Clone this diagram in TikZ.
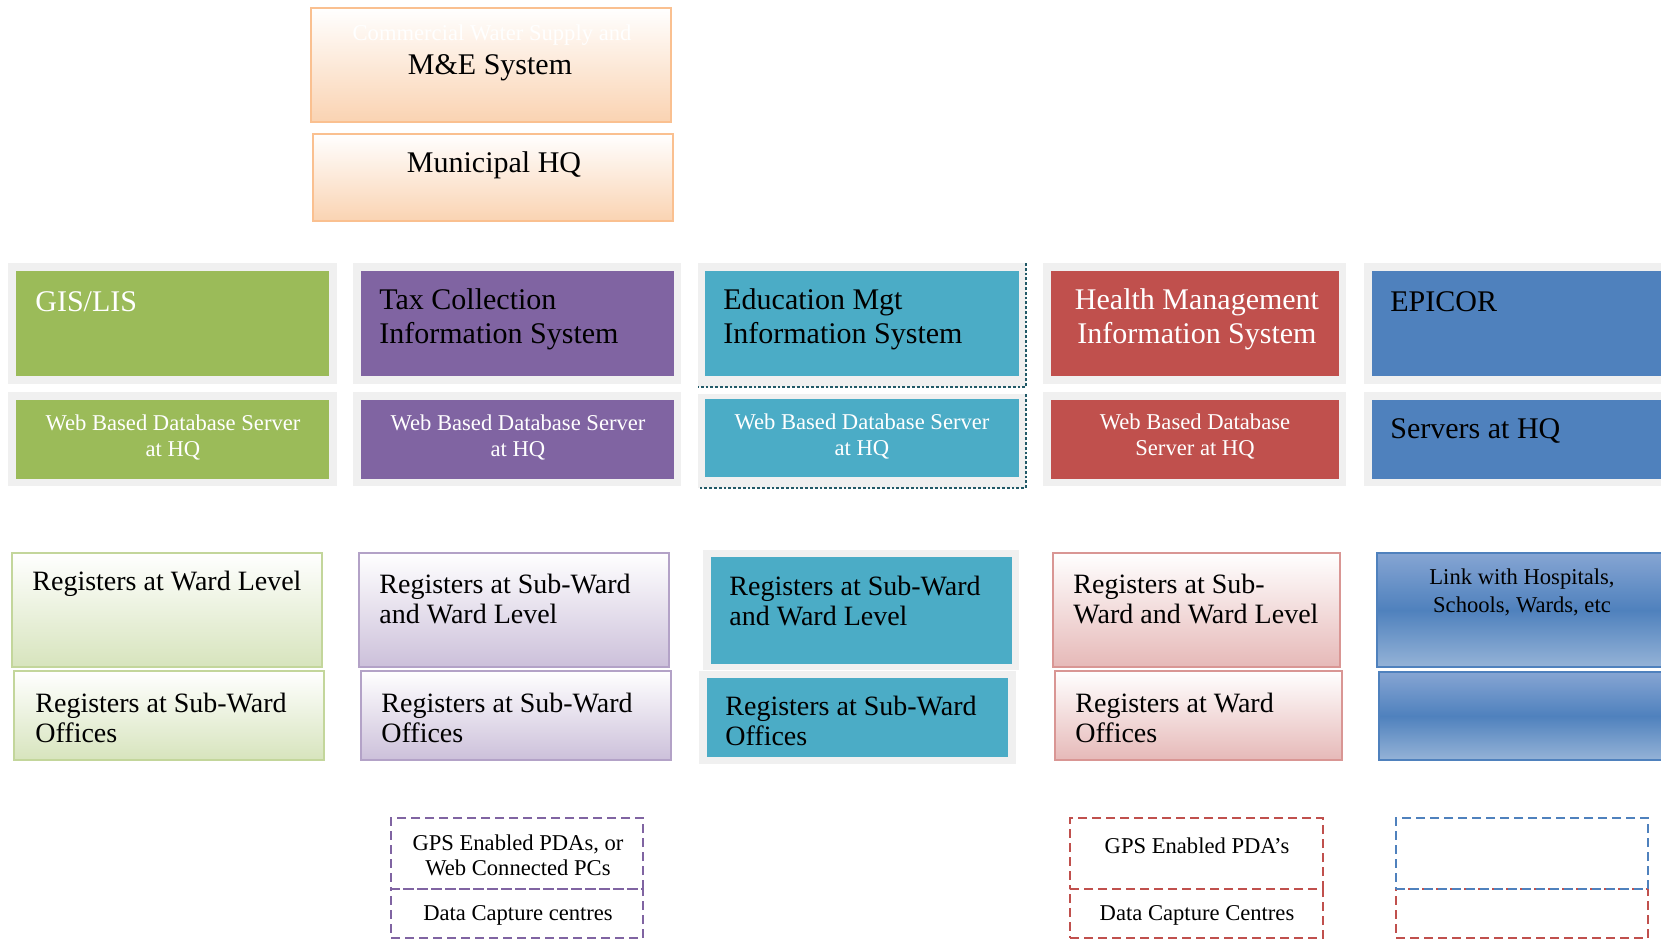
\documentclass[tikz,border=0pt]{standalone}
\usepackage{fontspec}
\setmainfont{Liberation Serif}
\usetikzlibrary{fit}
\definecolor{cOr}{HTML}{FAC090}
\definecolor{cOrB}{HTML}{FAD3B2}
\definecolor{cFrame}{HTML}{F0F0F0}
\definecolor{cGreen}{HTML}{9BBB59}
\definecolor{cPurple}{HTML}{8064A2}
\definecolor{cTeal}{HTML}{4BACC6}
\definecolor{cRed}{HTML}{C0504D}
\definecolor{cBlue}{HTML}{4F81BD}
\definecolor{cGreenL}{HTML}{D7E4BD}
\definecolor{cGreenE}{HTML}{C3D69B}
\definecolor{cPurL}{HTML}{CCC0DA}
\definecolor{cPurE}{HTML}{B3A2C7}
\definecolor{cRedL}{HTML}{E6B9B8}
\definecolor{cRedE}{HTML}{D99694}
\definecolor{cBlueT}{HTML}{86A5D3}
\definecolor{cBlueB}{HTML}{95B3D7}
\definecolor{cDot}{HTML}{215967}
\tikzset{
  plainbox/.style={inner sep=0pt, outer sep=0pt},
  grayframe/.style={plainbox, fill=cFrame},
  solidbox/.style={plainbox, fill=#1},
  gradbox/.style 2 args={plainbox, draw=#1, line width=1pt, top color=white, bottom color=#2},
  bluebox/.style={plainbox, draw=cBlue, line width=1pt, top color=cBlueT, bottom color=cBlueB, middle color=cBlue},
  dashbox/.style={plainbox, draw=#1, line width=1pt, dash pattern=on 4.5pt off 2.5pt},
  tbig/.style={font=\fontsize{15}{17}\selectfont, inner sep=0pt, align=left, yshift=-1.5pt},
  tmid/.style={font=\fontsize{14}{15.4}\selectfont, inner sep=0pt, align=left, yshift=-1.5pt},
  tsmall/.style={font=\fontsize{11.3}{12.7}\selectfont, inner sep=0pt, align=center, yshift=-1.3pt},
  dotline/.style={draw=cDot, line width=1.4pt, densely dotted},
}
\begin{document}
\begin{tikzpicture}[x=0.5pt,y=-0.5pt]
\clip (0,0) rectangle (1661,943);
\fill[white] (0,0) rectangle (1661,943);

% ---- top orange boxes
\node[gradbox={cOr}{cOrB}, fit={(311,8)(671,122)}] (me) {};
\node[tsmall, text=white] (meHidden) at (492,32) {Commercial Water Supply and};
\node[tbig] (meText) at (490,65) {M\&E System};
\node[gradbox={cOr}{cOrB}, fit={(313,134)(673,221)}] (hq) {};
\node[tbig] (hqText) at (494,162) {Municipal HQ};

% ---- row A / B frames
\node[grayframe, fit={(8,263)(337,384)}] (gisF1) {};
\node[grayframe, fit={(8,392)(337,486)}] (gisF2) {};
\node[grayframe, fit={(353,263)(681,384)}] (taxF1) {};
\node[grayframe, fit={(353,392)(681,486)}] (taxF2) {};
\node[grayframe, fit={(698,263)(1026,387)}] (eduF1) {};
\node[grayframe, fit={(698,394)(1026,488)}] (eduF2) {};
\node[grayframe, fit={(1043,263)(1346,384)}] (heaF1) {};
\node[grayframe, fit={(1043,392)(1346,486)}] (heaF2) {};
\node[grayframe, fit={(1364,263)(1670,384)}] (epiF1) {};
\node[grayframe, fit={(1364,392)(1670,486)}] (epiF2) {};
\draw[dotline] (eduF1.north east) -- (eduF1.south east) -- (eduF1.south west);
\draw[dotline] (eduF2.north east) -- (eduF2.south east) -- (eduF2.south west);

% ---- row A coloured
\node[solidbox=cGreen, fit={(16,271)(329,376)}] (gis1) {};
\node[solidbox=cPurple, fit={(361,271)(674,376)}] (tax1) {};
\node[solidbox=cTeal, fit={(705,271)(1019,376)}] (edu1) {};
\node[solidbox=cRed, fit={(1051,271)(1339,376)}] (hea1) {};
\node[solidbox=cBlue, fit={(1372,271)(1670,376)}] (epi1) {};
\node[tbig, text=white, anchor=west] (gis1T) at (35,299) {GIS/LIS};
\node[tbig, anchor=west] (tax1T) at (379,316) {Tax Collection\\Information System};
\node[tbig, anchor=west] (edu1T) at (723,316) {Education Mgt\\Information System};
\node[tbig, text=white, align=center] (hea1T) at (1197,316) {Health Management\\Information System};
\node[tbig, anchor=west] (epi1T) at (1390,299) {EPICOR};

% ---- row B coloured
\node[solidbox=cGreen, fit={(16,400)(329,479)}] (gis2) {};
\node[solidbox=cPurple, fit={(361,400)(674,479)}] (tax2) {};
\node[solidbox=cTeal, fit={(705,399)(1019,477)}] (edu2) {};
\node[solidbox=cRed, fit={(1051,400)(1339,479)}] (hea2) {};
\node[solidbox=cBlue, fit={(1372,400)(1670,479)}] (epi2) {};
\node[tsmall, text=white] (gis2T) at (173,435) {Web Based Database Server\\at HQ};
\node[tsmall, text=white] (tax2T) at (518,435) {Web Based Database Server\\at HQ};
\node[tsmall, text=white] (edu2T) at (862,434) {Web Based Database Server\\at HQ};
\node[tsmall, text=white] (hea2T) at (1195,434) {Web Based Database\\Server at HQ};
\node[tbig, anchor=west] (epi2T) at (1390,428) {Servers at HQ};

% ---- row C / D registers
\node[gradbox={cGreenE}{cGreenL}, fit={(12,553)(322,667)}] (gis3) {};
\node[gradbox={cGreenE}{cGreenL}, fit={(14,671)(324,760)}] (gis4) {};
\node[tmid, anchor=west] (gis3T) at (32,581) {Registers at Ward Level};
\node[tmid, anchor=west] (gis4T) at (35,715) {Registers at Sub-Ward\\Offices};

\node[gradbox={cPurE}{cPurL}, fit={(359,553)(669,667)}] (tax3) {};
\node[gradbox={cPurE}{cPurL}, fit={(361,671)(671,760)}] (tax4) {};
\node[tmid, anchor=west] (tax3T) at (379,596) {Registers at Sub-Ward\\and Ward Level};
\node[tmid, anchor=west] (tax4T) at (381,715) {Registers at Sub-Ward\\Offices};

\node[grayframe, fit={(703,550)(1019,670)}] (eduF3) {};
\node[grayframe, fit={(699,671)(1016,764)}] (eduF4) {};
\node[solidbox=cTeal, fit={(711,557)(1012,664)}] (edu3) {};
\node[solidbox=cTeal, fit={(707,678)(1008,757)}] (edu4) {};
\node[tmid, anchor=west] (edu3T) at (729,598) {Registers at Sub-Ward\\and Ward Level};
\node[tmid, anchor=west] (edu4T) at (725,718) {Registers at Sub-Ward\\Offices};

\node[gradbox={cRedE}{cRedL}, fit={(1053,553)(1340,667)}] (hea3) {};
\node[gradbox={cRedE}{cRedL}, fit={(1055,671)(1342,760)}] (hea4) {};
\node[tmid, anchor=west] (hea3T) at (1073,596) {Registers at Sub-\\Ward and Ward Level};
\node[tmid, anchor=west] (hea4T) at (1075,715) {Registers at Ward\\Offices};

\node[bluebox, fit={(1377,553)(1670,667)}] (epi3) {};
\node[bluebox, fit={(1379,672)(1670,760)}] (epi4) {};
\node[tsmall, font=\fontsize{11.3}{14.2}\selectfont] (epi3T) at (1522,590) {Link with Hospitals,\\Schools, Wards, etc};

% ---- dashed capture boxes
\node[dashbox=cPurple, fit={(391,889)(643,938)}] (tax6) {};
\node[dashbox=cPurple, fit={(391,818)(643,889)}] (tax5) {};
\node[tsmall] (tax5T) at (518,853) {GPS Enabled PDAs, or\\Web Connected PCs};
\node[tsmall] (tax6T) at (518,913) {Data Capture centres};

\node[dashbox=cRed, fit={(1070,889)(1323,938)}] (hea6) {};
\node[dashbox=cRed, fit={(1070,818)(1323,889)}] (hea5) {};
\node[tsmall] (hea5T) at (1197,843) {GPS Enabled PDA’s};
\node[tsmall] (hea6T) at (1197,913) {Data Capture Centres};

\node[dashbox=cRed, fit={(1396,889)(1648,938)}] (epi6) {};
\node[dashbox=cBlue, fit={(1396,818)(1648,889)}] (epi5) {};
\end{tikzpicture}
\end{document}
